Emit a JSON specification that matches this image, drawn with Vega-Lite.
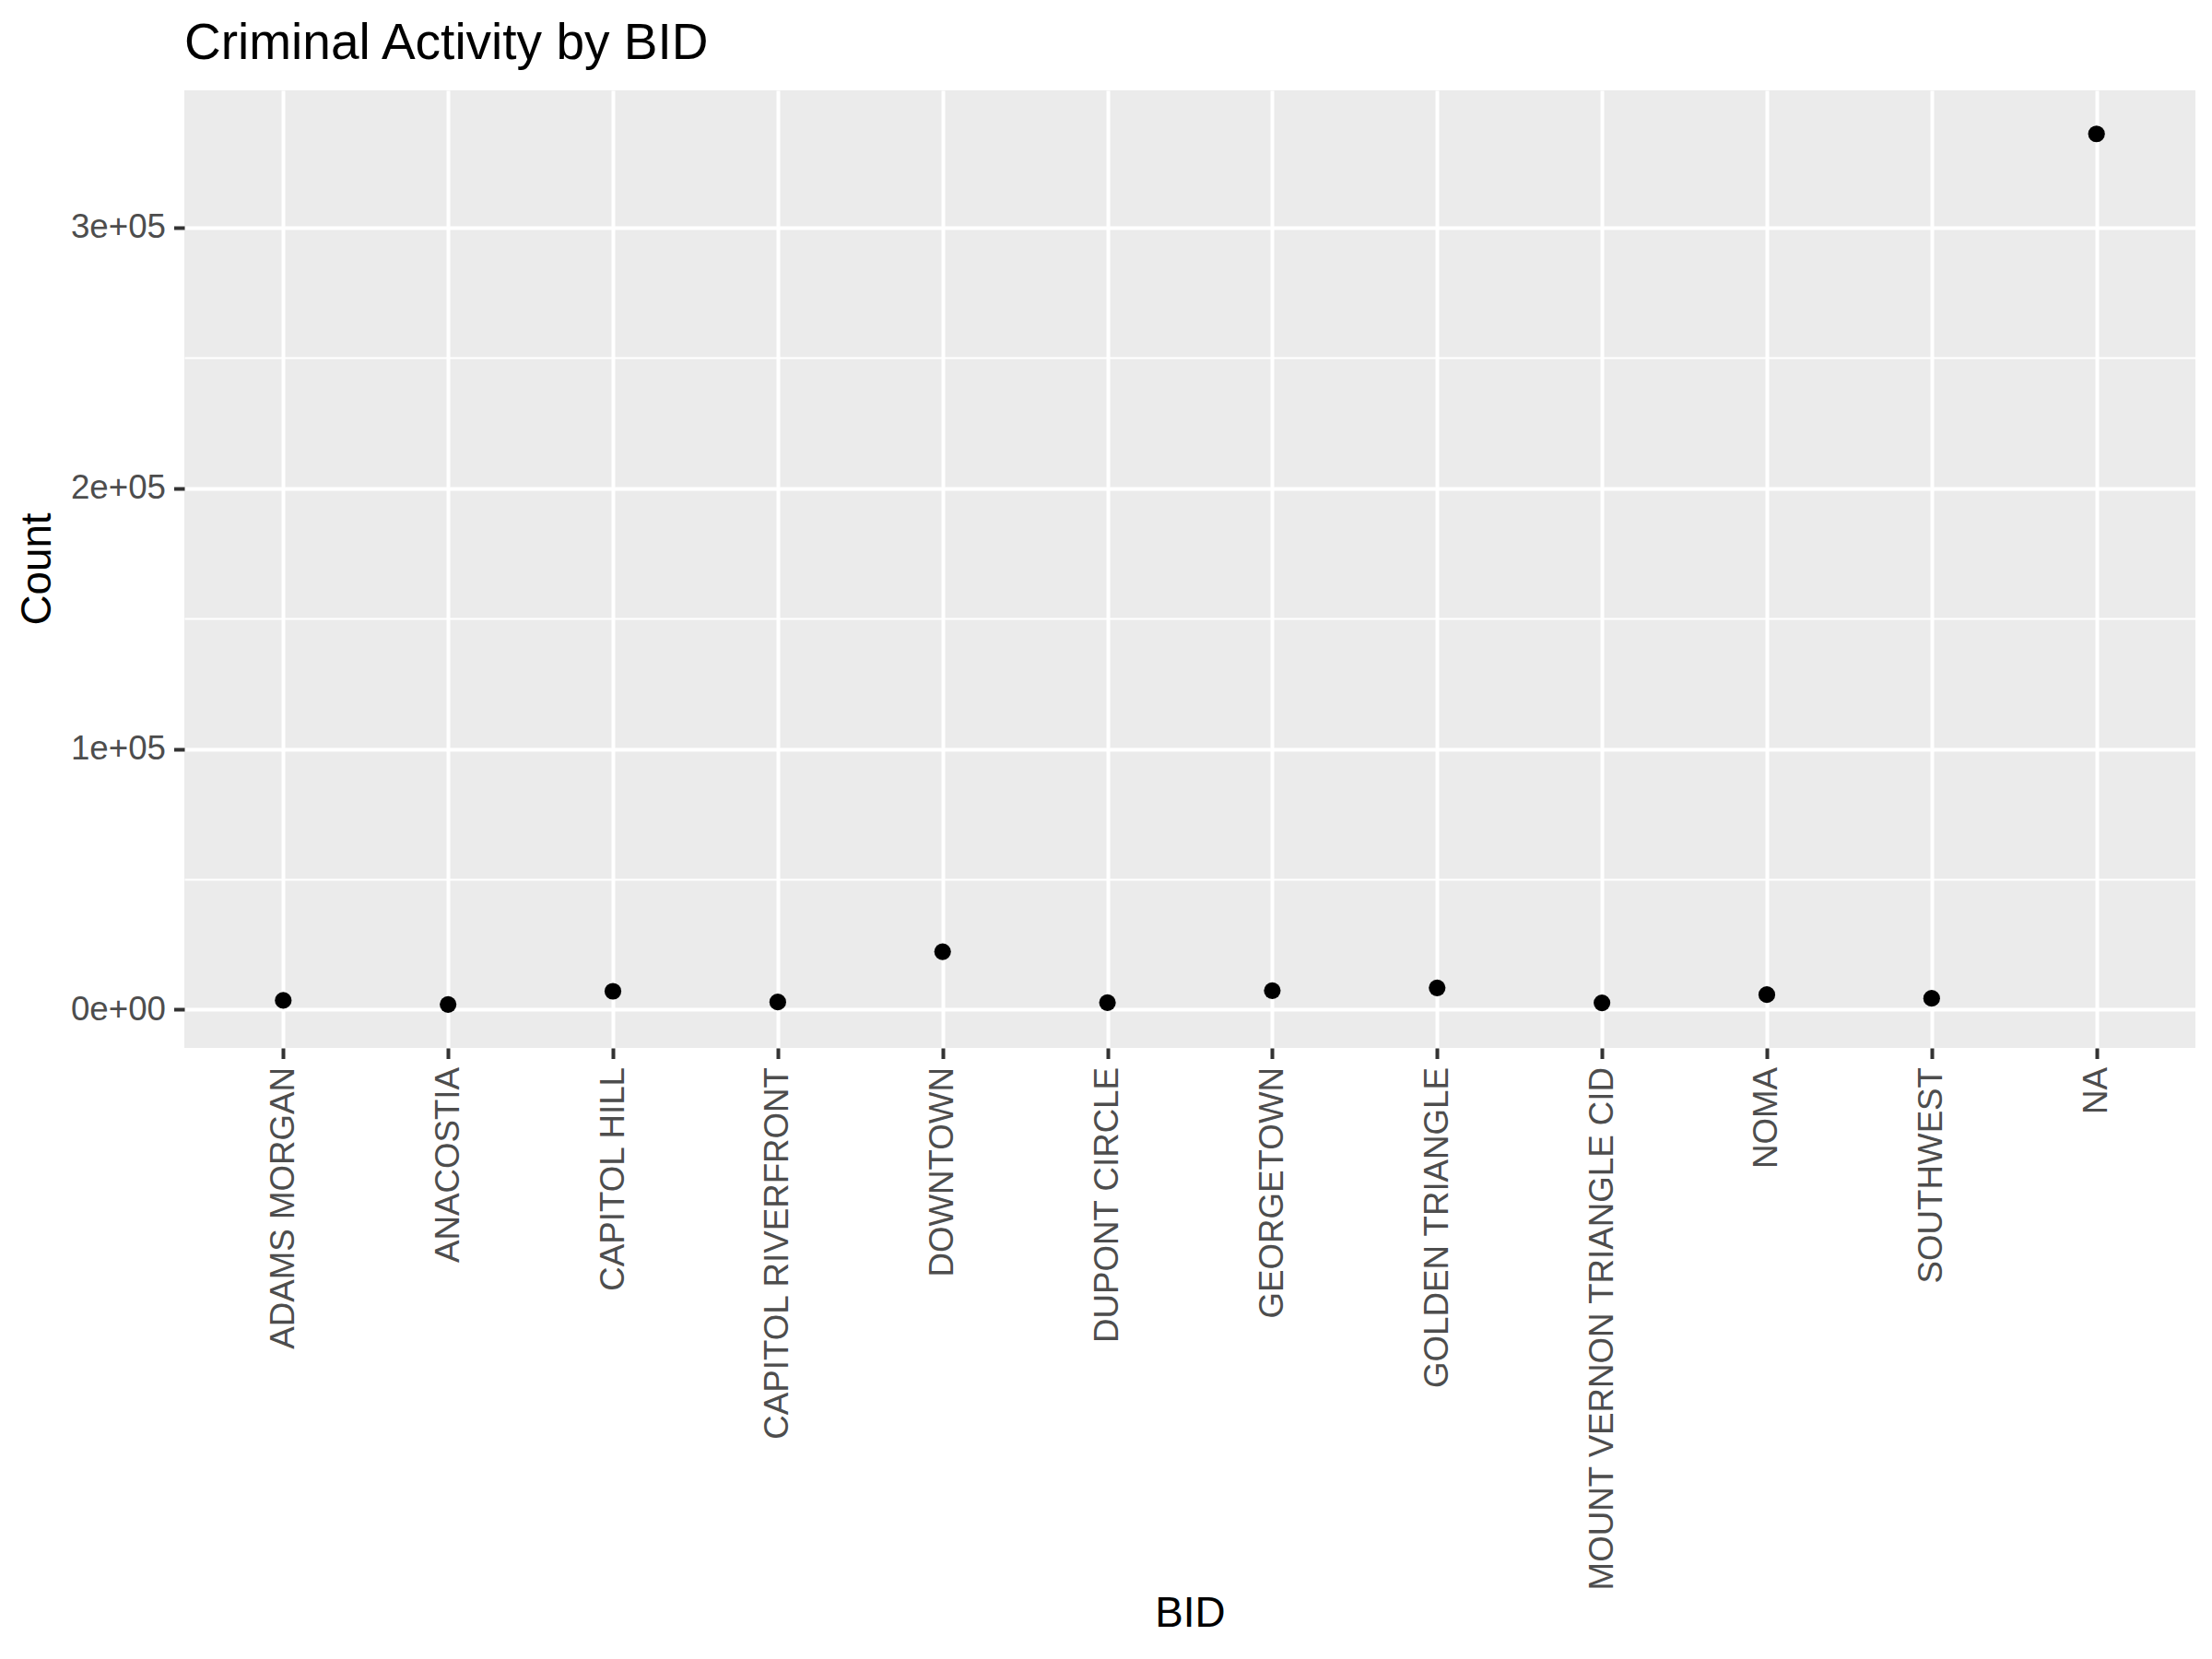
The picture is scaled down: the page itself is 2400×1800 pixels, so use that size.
{
  "$schema": "https://vega.github.io/schema/vega-lite/v6.json",
  "autosize": {"type": "none"},
  "width": 2182,
  "height": 1039,
  "padding": {"left": 200, "top": 98, "right": 18, "bottom": 663},
  "background": "white",
  "config": {
    "font": "Liberation Sans",
    "view": {"fill": "#EBEBEB", "stroke": null}
  },
  "title": {
    "text": "Criminal Activity by BID",
    "anchor": "start",
    "frame": "group",
    "font": "Liberation Sans",
    "fontSize": 55,
    "fontWeight": "normal",
    "color": "black",
    "baseline": "alphabetic",
    "offset": 34,
    "dy": 55
  },
  "data": {
    "values": [
      {"BID": "ADAMS MORGAN", "Count": 3530},
      {"BID": "ANACOSTIA", "Count": 1980},
      {"BID": "CAPITOL HILL", "Count": 7050},
      {"BID": "CAPITOL RIVERFRONT", "Count": 2930},
      {"BID": "DOWNTOWN", "Count": 22220},
      {"BID": "DUPONT CIRCLE", "Count": 2680},
      {"BID": "GEORGETOWN", "Count": 7270},
      {"BID": "GOLDEN TRIANGLE", "Count": 8330},
      {"BID": "MOUNT VERNON TRIANGLE CID", "Count": 2580},
      {"BID": "NOMA", "Count": 5750},
      {"BID": "SOUTHWEST", "Count": 4340},
      {"BID": "NA", "Count": 335900}
    ]
  },
  "mark": {"type": "point", "filled": true, "shape": "circle", "size": 330, "color": "black", "opacity": 1},
  "encoding": {
    "x": {
      "field": "BID",
      "type": "nominal",
      "sort": ["ADAMS MORGAN", "ANACOSTIA", "CAPITOL HILL", "CAPITOL RIVERFRONT", "DOWNTOWN", "DUPONT CIRCLE", "GEORGETOWN", "GOLDEN TRIANGLE", "MOUNT VERNON TRIANGLE CID", "NOMA", "SOUTHWEST", "NA"],
      "scale": {"type": "point", "padding": 0.6},
      "axis": {
        "title": "BID",
        "titleFont": "Liberation Sans",
        "titleFontSize": 45.8,
        "titleFontWeight": "normal",
        "titleColor": "black",
        "titleX": 1091,
        "titleY": 613,
        "titleAlign": "center",
        "titleBaseline": "middle",
        "labelAngle": -90,
        "labelAlign": "right",
        "labelBaseline": "middle",
        "labelFontSize": 36.7,
        "labelColor": "#4D4D4D",
        "labelPadding": 9,
        "labelLimit": 0,
        "labelOverlap": false,
        "domain": false,
        "ticks": true,
        "tickSize": 11.5,
        "tickWidth": 4,
        "tickColor": "#333333",
        "grid": true,
        "gridColor": "white",
        "gridWidth": 4
      }
    },
    "y": {
      "field": "Count",
      "type": "quantitative",
      "scale": {"domain": [-14700, 352600], "nice": false, "zero": false},
      "axis": {
        "title": "Count",
        "titleFont": "Liberation Sans",
        "titleFontSize": 45.8,
        "titleFontWeight": "normal",
        "titleColor": "black",
        "titleAngle": -90,
        "titleX": -160,
        "titleY": 519,
        "titleAlign": "center",
        "titleBaseline": "middle",
        "values": [0, 50000, 100000, 150000, 200000, 250000, 300000],
        "labelExpr": "datum.value % 100000 != 0 ? '' : (datum.value == 0 ? '0e+00' : format(datum.value / 100000, 'd') + 'e+05')",
        "labelFontSize": 36.7,
        "labelColor": "#4D4D4D",
        "labelPadding": 9,
        "labelOverlap": false,
        "domain": false,
        "tickSize": 11.5,
        "tickWidth": 4,
        "tickColor": "#333333",
        "tickOpacity": {"condition": {"test": "datum.value % 100000 != 0", "value": 0}, "value": 1},
        "grid": true,
        "gridColor": "white",
        "gridWidth": {"condition": {"test": "datum.value % 100000 != 0", "value": 2}, "value": 4}
      }
    }
  }
}
